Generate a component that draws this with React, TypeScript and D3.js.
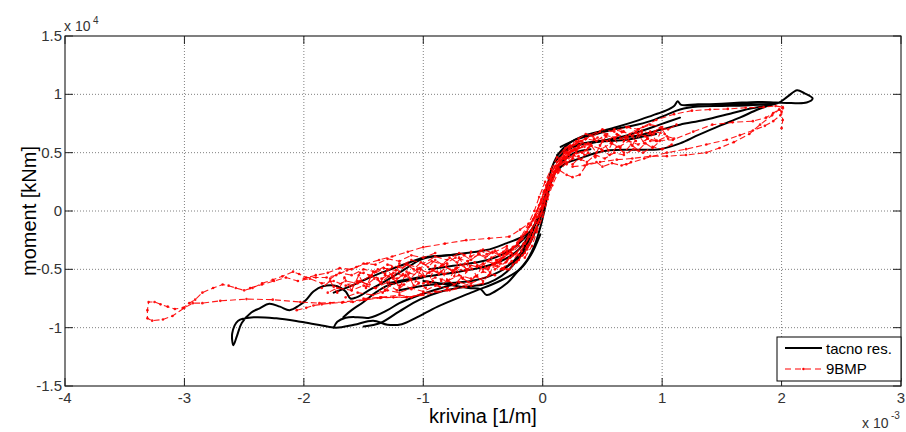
import React from "react";
import * as d3 from "d3";

type P = [number, number];

// axes
const xTicks = [-4, -3, -2, -1, 0, 1, 2, 3];
const yTicks = [-1.5, -1, -0.5, 0, 0.5, 1, 1.5];
const xLabel = "krivina [1/m]";
const yLabel = "moment [kNm]";
const seriesNames = ["tacno res.", "9BMP"];

// ---- series 1: "tacno res." (x in 1e-3 1/m, y in 1e4 kNm) ----
const black1: P[] = [[-0.05,-0.1],[0.0,0.05],[0.04,0.22],[0.08,0.38],[0.14,0.5],[0.22,0.58],[0.33,0.64],[0.47,0.68],[0.62,0.72],[0.78,0.77],[0.92,0.82],[1.03,0.86],[1.1,0.9],[1.13,0.94],[1.16,0.91],[1.3,0.915],[1.5,0.915],[1.7,0.915],[1.85,0.915],[1.97,0.925],[2.05,0.98],[2.13,1.035],[2.19,1.01],[2.26,0.965],[2.21,0.93],[2.08,0.925],[1.95,0.93],[1.8,0.935],[1.6,0.925],[1.4,0.915],[1.2,0.905]];
const black2: P[] = [[0.15,0.55],[0.3,0.62],[0.45,0.66],[0.6,0.7],[0.75,0.73],[0.9,0.77],[1.05,0.83],[1.15,0.87],[1.3,0.895],[1.5,0.9],[1.7,0.905],[1.9,0.915]];
const black3: P[] = [[0.4,0.58],[0.6,0.62],[0.81,0.65],[1.0,0.7],[1.15,0.74],[1.35,0.78],[1.59,0.84],[1.75,0.88],[1.87,0.9],[1.95,0.92]];
const black4: P[] = [[0.08,0.3],[0.18,0.4],[0.31,0.45],[0.45,0.5],[0.56,0.52],[0.75,0.525],[0.98,0.53],[1.15,0.58],[1.3,0.65],[1.48,0.73],[1.65,0.8],[1.8,0.87],[1.92,0.915]];
const black5: P[] = [[0.1,0.42],[0.2,0.52],[0.32,0.57],[0.48,0.6],[0.64,0.63],[0.81,0.68],[0.98,0.74],[1.15,0.8]];
const black6: P[] = [[0.12,0.48],[0.25,0.56],[0.4,0.59],[0.55,0.6],[0.7,0.61],[0.85,0.64],[0.95,0.66]];
const black7: P[] = [[-0.35,-0.5],[-0.22,-0.42],[-0.12,-0.3],[-0.04,-0.12],[0.03,0.1],[0.09,0.3],[0.16,0.42],[0.27,0.5],[0.4,0.53]];
const black8: P[] = [[-0.02,-0.2],[-0.1,-0.38],[-0.19,-0.5],[-0.36,-0.6],[-0.6,-0.7],[-0.88,-0.82],[-1.05,-0.91],[-1.18,-0.97],[-1.3,-0.975],[-1.42,-0.94],[-1.58,-0.975],[-1.73,-1.0],[-1.87,-0.977],[-2.03,-0.949],[-2.23,-0.92],[-2.42,-0.911],[-2.55,-0.94],[-2.6,-1.05],[-2.59,-1.15],[-2.56,-1.07],[-2.52,-0.96],[-2.44,-0.87],[-2.37,-0.834],[-2.29,-0.795],[-2.2,-0.82],[-2.12,-0.85],[-2.04,-0.81],[-1.98,-0.76],[-1.92,-0.69],[-1.84,-0.645],[-1.72,-0.645],[-1.65,-0.69],[-1.61,-0.75],[-1.56,-0.74],[-1.45,-0.677],[-1.3,-0.59],[-1.14,-0.49],[-1.03,-0.42],[-0.92,-0.39],[-0.8,-0.38],[-0.64,-0.36],[-0.47,-0.335],[-0.3,-0.275],[-0.19,-0.23],[-0.11,-0.18],[-0.05,-0.08],[0.0,0.03]];
const black9: P[] = [[-1.75,-0.7],[-1.6,-0.64],[-1.45,-0.57],[-1.3,-0.51],[-1.14,-0.45],[-1.0,-0.4],[-0.85,-0.385],[-0.7,-0.37]];
const black10: P[] = [[-1.5,-0.99],[-1.36,-0.96],[-1.2,-0.86],[-1.03,-0.76],[-0.85,-0.69],[-0.65,-0.65],[-0.5,-0.63],[-0.4,-0.59],[-0.3,-0.52],[-0.2,-0.4],[-0.12,-0.26],[-0.05,-0.08]];
const black11: P[] = [[-1.75,-1.0],[-1.72,-0.95],[-1.65,-0.915],[-1.55,-0.91],[-1.45,-0.915],[-1.3,-0.85],[-1.2,-0.79],[-1.03,-0.72],[-0.85,-0.66],[-0.7,-0.62]];
const black12: P[] = [[-1.67,-0.91],[-1.6,-0.85],[-1.5,-0.78],[-1.4,-0.7],[-1.3,-0.64],[-1.15,-0.6],[-1.0,-0.57]];
const black13: P[] = [[-1.3,-0.62],[-1.1,-0.58],[-0.9,-0.55],[-0.7,-0.52],[-0.5,-0.48],[-0.35,-0.43],[-0.2,-0.33],[-0.08,-0.15]];
const black14: P[] = [[-1.2,-0.68],[-1.0,-0.64],[-0.8,-0.62],[-0.6,-0.6],[-0.45,-0.56],[-0.3,-0.48],[-0.18,-0.35],[-0.06,-0.1]];
const black15: P[] = [[-0.95,-0.5],[-0.75,-0.47],[-0.55,-0.44],[-0.4,-0.4],[-0.25,-0.32],[-0.12,-0.2]];
const black16: P[] = [[-1.0,-0.6],[-0.8,-0.63],[-0.62,-0.66],[-0.52,-0.67],[-0.47,-0.72],[-0.4,-0.69],[-0.3,-0.62],[-0.22,-0.53],[-0.13,-0.42],[-0.07,-0.3],[-0.02,-0.14],[0.03,0.08]];

// ---- series 2: "9BMP" ----
const red1: P[] = [[-0.42,-0.45],[-0.33,-0.4],[-0.25,-0.33],[-0.17,-0.24],[-0.1,-0.12],[-0.05,0.0],[0.0,0.12],[0.05,0.24],[0.1,0.34],[0.15,0.43],[0.21,0.5],[0.3,0.56]];
const red2: P[] = [[-0.35,-0.5],[-0.26,-0.43],[-0.18,-0.34],[-0.11,-0.22],[-0.06,-0.1],[-0.01,0.03],[0.03,0.16],[0.07,0.28],[0.12,0.39],[0.18,0.47],[0.27,0.53],[0.38,0.58]];
const red3: P[] = [[-0.3,-0.42],[-0.22,-0.36],[-0.15,-0.28],[-0.09,-0.17],[-0.04,-0.05],[0.01,0.08],[0.05,0.2],[0.1,0.32],[0.15,0.41],[0.22,0.48]];
const red4: P[] = [[-0.25,-0.46],[-0.17,-0.38],[-0.11,-0.28],[-0.06,-0.16],[-0.02,-0.04],[0.02,0.1],[0.06,0.24],[0.11,0.36],[0.17,0.45],[0.25,0.52],[0.35,0.55]];
const red5: P[] = [[-0.2,-0.38],[-0.13,-0.3],[-0.08,-0.2],[-0.03,-0.08],[0.01,0.05],[0.05,0.18],[0.09,0.3],[0.14,0.4],[0.2,0.46]];
const red6: P[] = [[-0.5,-0.5],[-0.4,-0.45],[-0.3,-0.37],[-0.21,-0.28],[-0.13,-0.18],[-0.07,-0.06],[-0.02,0.06],[0.02,0.18],[0.07,0.31],[0.12,0.42],[0.18,0.5],[0.26,0.57],[0.36,0.62]];
const red7: P[] = [[-0.15,-0.4],[-0.09,-0.3],[-0.05,-0.18],[0.0,-0.05],[0.04,0.1],[0.08,0.22],[0.13,0.33],[0.2,0.42],[0.3,0.47]];
const red8: P[] = [[0.2,0.5],[0.28,0.58],[0.36,0.62],[0.45,0.6],[0.52,0.65],[0.6,0.63],[0.68,0.68],[0.75,0.64],[0.83,0.69],[0.9,0.66],[0.98,0.71],[1.05,0.7],[1.12,0.74]];
const red9: P[] = [[0.18,0.45],[0.26,0.52],[0.33,0.5],[0.41,0.56],[0.49,0.53],[0.57,0.58],[0.64,0.55],[0.72,0.6],[0.8,0.57],[0.88,0.62],[0.96,0.6],[1.04,0.64],[1.1,0.62]];
const red10: P[] = [[0.22,0.55],[0.3,0.6],[0.38,0.57],[0.46,0.63],[0.54,0.6],[0.62,0.66],[0.7,0.62],[0.78,0.67],[0.86,0.64],[0.94,0.68],[1.02,0.66]];
const red11: P[] = [[0.25,0.4],[0.3,0.45],[0.37,0.42],[0.44,0.48],[0.52,0.45],[0.6,0.5],[0.68,0.48],[0.76,0.53],[0.84,0.5],[0.92,0.55],[1.0,0.53],[1.08,0.57]];
const red12: P[] = [[0.14,0.35],[0.2,0.31],[0.25,0.29],[0.31,0.31],[0.37,0.4],[0.45,0.42],[0.5,0.38],[0.58,0.41],[0.66,0.39],[0.74,0.42]];
const red13: P[] = [[0.3,0.55],[0.4,0.65],[0.5,0.7],[0.6,0.68],[0.7,0.72],[0.8,0.7],[0.9,0.74],[1.0,0.72]];
const red14: P[] = [[0.65,0.62],[0.8,0.7],[0.95,0.78],[1.1,0.83],[1.25,0.86],[1.4,0.87],[1.55,0.875],[1.7,0.885],[1.85,0.89],[1.95,0.9],[2.01,0.89]];
const red15: P[] = [[0.9,0.6],[1.09,0.61],[1.26,0.68],[1.42,0.74],[1.59,0.76],[1.76,0.77],[1.87,0.8],[1.93,0.84],[1.98,0.87],[2.0,0.85],[2.01,0.78],[2.0,0.71]];
const red16: P[] = [[0.7,0.4],[0.85,0.45],[1.04,0.5],[1.2,0.53],[1.37,0.57],[1.54,0.61],[1.65,0.65],[1.76,0.69],[1.86,0.73],[1.93,0.77],[1.99,0.82],[2.01,0.88]];
const red17: P[] = [[0.25,0.38],[0.35,0.39],[0.48,0.42],[0.62,0.44],[0.75,0.45],[0.9,0.47],[1.04,0.47],[1.2,0.48],[1.37,0.5],[1.48,0.54],[1.6,0.59],[1.73,0.66],[1.82,0.74],[1.92,0.82],[1.98,0.87]];
const red18: P[] = [[0.0,0.05],[-0.08,-0.08],[-0.19,-0.16],[-0.28,-0.22],[-0.45,-0.235],[-0.64,-0.25],[-0.82,-0.28],[-1.0,-0.31],[-1.13,-0.35],[-1.26,-0.39],[-1.37,-0.42],[-1.47,-0.45],[-1.56,-0.48],[-1.64,-0.51],[-1.73,-0.55],[-1.81,-0.57],[-1.9,-0.57],[-1.98,-0.57],[-2.04,-0.54],[-2.09,-0.52],[-2.18,-0.56],[-2.26,-0.59],[-2.35,-0.62],[-2.43,-0.66],[-2.5,-0.68],[-2.57,-0.66],[-2.63,-0.64],[-2.68,-0.63],[-2.76,-0.66],[-2.85,-0.7],[-2.91,-0.76],[-2.96,-0.79],[-3.01,-0.83],[-3.08,-0.84],[-3.14,-0.82],[-3.2,-0.8],[-3.25,-0.78],[-3.3,-0.78],[-3.31,-0.85],[-3.31,-0.92],[-3.27,-0.94],[-3.18,-0.93],[-3.1,-0.9],[-3.0,-0.83],[-2.93,-0.79],[-2.85,-0.79],[-2.7,-0.77],[-2.48,-0.755],[-2.26,-0.76],[-2.03,-0.78],[-1.87,-0.79],[-1.67,-0.78],[-1.5,-0.76],[-1.36,-0.74],[-1.14,-0.74],[-1.0,-0.72],[-0.8,-0.68],[-0.6,-0.62],[-0.45,-0.55]];
const red19: P[] = [[-0.3,-0.3],[-0.42,-0.36],[-0.5,-0.33],[-0.6,-0.39],[-0.7,-0.36],[-0.8,-0.42],[-0.9,-0.39],[-1.0,-0.45],[-1.1,-0.42],[-1.2,-0.48],[-1.3,-0.46],[-1.4,-0.52],[-1.5,-0.5],[-1.6,-0.55],[-1.7,-0.53],[-1.78,-0.58]];
const red20: P[] = [[-0.35,-0.45],[-0.45,-0.42],[-0.55,-0.48],[-0.65,-0.45],[-0.75,-0.51],[-0.85,-0.47],[-0.95,-0.53],[-1.05,-0.5],[-1.15,-0.56],[-1.25,-0.53],[-1.35,-0.58],[-1.45,-0.56],[-1.55,-0.62],[-1.65,-0.6],[-1.75,-0.65]];
const red21: P[] = [[-0.4,-0.55],[-0.5,-0.52],[-0.6,-0.58],[-0.7,-0.55],[-0.8,-0.6],[-0.9,-0.57],[-1.0,-0.62],[-1.1,-0.59],[-1.2,-0.64],[-1.3,-0.61],[-1.4,-0.66],[-1.5,-0.64],[-1.6,-0.68],[-1.72,-0.66],[-1.8,-0.7]];
const red22: P[] = [[-0.25,-0.38],[-0.33,-0.35],[-0.43,-0.4],[-0.53,-0.37],[-0.63,-0.43],[-0.73,-0.4],[-0.83,-0.46],[-0.93,-0.43],[-1.03,-0.49],[-1.13,-0.46],[-1.23,-0.51],[-1.33,-0.49],[-1.43,-0.55],[-1.53,-0.53]];
const red23: P[] = [[-0.5,-0.62],[-0.6,-0.64],[-0.7,-0.61],[-0.8,-0.66],[-0.9,-0.64],[-1.0,-0.69],[-1.1,-0.66],[-1.2,-0.7],[-1.3,-0.68],[-1.42,-0.72],[-1.55,-0.7],[-1.65,-0.74]];
const red24: P[] = [[-0.64,-0.65],[-0.78,-0.68],[-0.9,-0.69],[-1.0,-0.7],[-1.1,-0.74],[-1.2,-0.72],[-1.35,-0.74],[-1.5,-0.75]];
const red25: P[] = [[-2.45,-0.66],[-2.35,-0.63],[-2.25,-0.6],[-2.15,-0.57],[-2.05,-0.6],[-1.95,-0.58],[-1.85,-0.62],[-1.75,-0.6],[-1.65,-0.64],[-1.55,-0.6],[-1.45,-0.63]];
const red26: P[] = [[-0.3,-0.5],[-0.38,-0.47],[-0.46,-0.5],[-0.55,-0.47],[-0.64,-0.52],[-0.72,-0.49],[-0.82,-0.54],[-0.92,-0.51],[-1.02,-0.56],[-1.12,-0.53],[-1.22,-0.58],[-1.32,-0.55]];
const red27: P[] = [[-2.06,-0.85],[-1.98,-0.83],[-1.92,-0.81],[-1.85,-0.8],[-1.78,-0.79],[-1.68,-0.785],[-1.59,-0.78],[-1.48,-0.76],[-1.36,-0.745],[-1.25,-0.74],[-1.14,-0.737],[-1.02,-0.72]];
const red28: P[] = [[-0.3,-0.34],[-0.36,-0.38],[-0.42,-0.35],[-0.48,-0.4],[-0.54,-0.37],[-0.6,-0.42],[-0.66,-0.38],[-0.72,-0.44],[-0.78,-0.4],[-0.84,-0.46],[-0.9,-0.42],[-0.96,-0.48],[-1.02,-0.44],[-1.08,-0.5],[-1.14,-0.46],[-1.2,-0.52],[-1.26,-0.48],[-1.32,-0.54],[-1.38,-0.5],[-1.44,-0.56],[-1.5,-0.53]];
const red29: P[] = [[-0.35,-0.42],[-0.4,-0.46],[-0.46,-0.43],[-0.52,-0.48],[-0.57,-0.44],[-0.63,-0.5],[-0.69,-0.46],[-0.75,-0.52],[-0.81,-0.48],[-0.87,-0.54],[-0.93,-0.5],[-0.99,-0.56],[-1.05,-0.52],[-1.11,-0.58],[-1.17,-0.54],[-1.23,-0.6],[-1.29,-0.56],[-1.35,-0.61],[-1.41,-0.58],[-1.47,-0.63],[-1.53,-0.6],[-1.6,-0.64]];
const red30: P[] = [[-0.45,-0.55],[-0.5,-0.6],[-0.56,-0.56],[-0.62,-0.61],[-0.68,-0.57],[-0.74,-0.63],[-0.8,-0.59],[-0.86,-0.65],[-0.92,-0.6],[-0.98,-0.66],[-1.04,-0.62],[-1.1,-0.67],[-1.16,-0.63],[-1.22,-0.68],[-1.28,-0.64],[-1.34,-0.7],[-1.4,-0.66]];
const red31: P[] = [[-0.6,-0.35],[-0.64,-0.5],[-0.7,-0.4],[-0.74,-0.56],[-0.8,-0.45],[-0.85,-0.6],[-0.9,-0.47],[-0.96,-0.62],[-1.02,-0.5],[-1.08,-0.64],[-1.14,-0.52],[-1.2,-0.66],[-1.26,-0.55],[-1.32,-0.68],[-1.38,-0.58]];
const red32: P[] = [[-0.28,-0.4],[-0.33,-0.5],[-0.39,-0.42],[-0.44,-0.53],[-0.5,-0.45],[-0.55,-0.56],[-0.61,-0.47],[-0.67,-0.58],[-0.73,-0.49],[-0.79,-0.6],[-0.85,-0.52]];
const red33: P[] = [[-0.9,-0.36],[-1.0,-0.4],[-1.1,-0.38],[-1.2,-0.43],[-1.3,-0.41],[-1.4,-0.46],[-1.5,-0.45],[-1.6,-0.5],[-1.7,-0.49],[-1.8,-0.53],[-1.9,-0.55],[-2.0,-0.58]];
const red34: P[] = [[-1.2,-0.45],[-1.25,-0.58],[-1.3,-0.5],[-1.36,-0.62],[-1.42,-0.52],[-1.48,-0.66],[-1.54,-0.55],[-1.6,-0.68],[-1.66,-0.57],[-1.72,-0.7],[-1.78,-0.6],[-1.85,-0.66]];
const red35: P[] = [[-0.2,-0.3],[-0.26,-0.36],[-0.3,-0.32],[-0.36,-0.38],[-0.4,-0.34],[-0.47,-0.37],[-0.52,-0.34]];
const red36: P[] = [[0.15,0.42],[0.2,0.5],[0.25,0.45],[0.3,0.54],[0.35,0.48],[0.4,0.57],[0.45,0.5],[0.5,0.6],[0.55,0.52],[0.6,0.62],[0.65,0.54],[0.7,0.64],[0.75,0.56],[0.8,0.66],[0.85,0.58],[0.9,0.68],[0.95,0.6],[1.0,0.7],[1.05,0.62]];
const red37: P[] = [[0.18,0.52],[0.23,0.56],[0.28,0.52],[0.33,0.6],[0.38,0.54],[0.43,0.62],[0.48,0.56],[0.53,0.64],[0.58,0.58],[0.63,0.65],[0.68,0.6],[0.73,0.66],[0.78,0.6],[0.83,0.67],[0.88,0.62],[0.93,0.66]];
const red38: P[] = [[0.2,0.4],[0.26,0.48],[0.32,0.44],[0.38,0.5],[0.44,0.46],[0.5,0.52],[0.56,0.48],[0.62,0.55],[0.68,0.5],[0.74,0.57],[0.8,0.52],[0.86,0.58],[0.92,0.54],[0.98,0.6]];
const red39: P[] = [[0.3,0.62],[0.36,0.66],[0.42,0.64],[0.48,0.68],[0.54,0.66],[0.6,0.7],[0.66,0.68],[0.72,0.72],[0.78,0.68],[0.84,0.72]];
const red40: P[] = [[-0.38,-0.42],[-0.29,-0.36],[-0.21,-0.28],[-0.14,-0.18],[-0.08,-0.07],[-0.03,0.05],[0.01,0.17],[0.05,0.28],[0.1,0.38],[0.16,0.46],[0.24,0.52]];
const red41: P[] = [[-0.28,-0.5],[-0.2,-0.42],[-0.13,-0.33],[-0.08,-0.22],[-0.04,-0.1],[0.0,0.02],[0.04,0.14],[0.08,0.26],[0.13,0.37],[0.19,0.44],[0.28,0.5]];
const red42: P[] = [[-0.45,-0.48],[-0.36,-0.43],[-0.27,-0.35],[-0.19,-0.25],[-0.12,-0.14],[-0.06,-0.03],[-0.01,0.1],[0.03,0.22],[0.08,0.34],[0.14,0.45],[0.22,0.53],[0.32,0.6]];
const red43: P[] = [[-0.4,-0.5],[-0.31,-0.44],[-0.23,-0.37],[-0.16,-0.28],[-0.1,-0.17],[-0.05,-0.05],[-0.01,0.07],[0.04,0.2],[0.09,0.33],[0.15,0.43],[0.23,0.5],[0.33,0.55]];
const red44: P[] = [[-0.33,-0.38],[-0.25,-0.31],[-0.18,-0.22],[-0.12,-0.11],[-0.07,0.0],[-0.03,0.12],[0.02,0.25],[0.07,0.36],[0.12,0.46],[0.19,0.54],[0.28,0.6]];
const red45: P[] = [[-0.22,-0.44],[-0.15,-0.36],[-0.1,-0.26],[-0.05,-0.14],[-0.01,-0.02],[0.03,0.11],[0.07,0.23],[0.12,0.34],[0.18,0.42],[0.26,0.48],[0.36,0.52]];

const blackPaths = [black1, black2, black3, black4, black5, black6, black7, black8, black9, black10, black11, black12, black13, black14, black15, black16];
const redPaths = [red18, red19, red20, red21, red22, red23, red24, red25, red26, red27, red28, red29, red30, red31, red32, red33, red34, red35, red1, red2, red3, red4, red5, red6, red7, red40, red41, red42, red43, red44, red45, red8, red9, red10, red11, red12, red13, red36, red37, red38, red39, red14, red15, red16, red17];

const FONT = "'Liberation Sans', Arial, Helvetica, sans-serif";

export default function App() {
  const left = 65, right = 901, top = 36, bottom = 386;
  const x = d3.scaleLinear().domain([-4, 3]).range([left, right]);
  const y = d3.scaleLinear().domain([-1.5, 1.5]).range([bottom, top]);
  const lineSmooth = d3.line<P>().x((d) => x(d[0])).y((d) => y(d[1])).curve(d3.curveCatmullRom.alpha(0.5));
  const lineRaw = d3.line<P>().x((d) => x(d[0])).y((d) => y(d[1]));
  const tickLen = 8;
  const tickColor = "#222";
  const labelColor = "#333";

  return (
    <svg width={906} height={432} style={{ position: "fixed", left: 0, top: 0, background: "#fff" }} fontFamily={FONT}>
      <rect x={0} y={0} width={906} height={432} fill="#fff" />
      <defs>
        <clipPath id="plotclip">
          <rect x={left} y={top} width={right - left} height={bottom - top} />
        </clipPath>
      </defs>
      {/* grid */}
      {xTicks.slice(1, -1).map((t) => (
        <line key={"gx" + t} x1={x(t)} x2={x(t)} y1={top} y2={bottom} stroke="#808080" strokeWidth={1} strokeDasharray="1,2" />
      ))}
      {yTicks.slice(1, -1).map((t) => (
        <line key={"gy" + t} x1={left} x2={right} y1={y(t)} y2={y(t)} stroke="#808080" strokeWidth={1} strokeDasharray="1,2" />
      ))}
      {/* data */}
      <g clipPath="url(#plotclip)">
        {blackPaths.map((p, i) => (
          <path key={"b" + i} d={lineSmooth(p) || ""} fill="none" stroke="#000" strokeWidth={2} strokeLinejoin="round" strokeLinecap="round" />
        ))}
        {redPaths.map((p, i) => (
          <g key={"r" + i}>
            <path d={lineRaw(p) || ""} fill="none" stroke="#ff0000" strokeWidth={1.1} strokeDasharray="6,3" opacity={0.9} />
            {p.map((d, j) => (
              <circle key={j} cx={x(d[0])} cy={y(d[1])} r={1.3} fill="#ff0000" opacity={0.9} />
            ))}
          </g>
        ))}
      </g>
      {/* axes box */}
      <rect x={left} y={top} width={right - left} height={bottom - top} fill="none" stroke="#000" strokeWidth={1} />
      {/* ticks */}
      {xTicks.map((t) => (
        <g key={"tx" + t}>
          <line x1={x(t)} x2={x(t)} y1={bottom} y2={bottom - tickLen} stroke={tickColor} />
          <line x1={x(t)} x2={x(t)} y1={top} y2={top + tickLen} stroke={tickColor} />
          <text x={x(t)} y={403} textAnchor="middle" fontSize={15} fill={labelColor}>{String(t)}</text>
        </g>
      ))}
      {yTicks.map((t) => (
        <g key={"ty" + t}>
          <line x1={left} x2={left + tickLen} y1={y(t)} y2={y(t)} stroke={tickColor} />
          <line x1={right} x2={right - tickLen} y1={y(t)} y2={y(t)} stroke={tickColor} />
          <text x={62} y={y(t) + 5} textAnchor="end" fontSize={15} fill={labelColor}>{String(t)}</text>
        </g>
      ))}
      {/* exponents */}
      <text x={64} y={31} fontSize={14} fill={labelColor}>x 10</text>
      <text x={93} y={24} fontSize={10} fill={labelColor}>4</text>
      <text x={862} y={428} fontSize={14} fill={labelColor}>x 10</text>
      <text x={891} y={419} fontSize={10} fill={labelColor}>-3</text>
      {/* axis labels */}
      <text x={(left + right) / 2} y={423} textAnchor="middle" fontSize={20} fill="#000">{xLabel}</text>
      <text transform={`translate(36, ${(top + bottom) / 2}) rotate(-90)`} textAnchor="middle" fontSize={20} fill="#000">{yLabel}</text>
      {/* legend */}
      <g>
        <rect x={777} y={337} width={124} height={44} fill="#fff" stroke="#000" strokeWidth={1} />
        <line x1={785} x2={822} y1={348} y2={348} stroke="#000" strokeWidth={2} />
        <text x={826} y={354} fontSize={15} fill="#000">{seriesNames[0]}</text>
        <line x1={785} x2={822} y1={369} y2={369} stroke="#ff0000" strokeWidth={1} strokeDasharray="6,4" />
        <circle cx={803.5} cy={369} r={1.3} fill="#ff0000" />
        <text x={826} y={374} fontSize={15} fill="#000">{seriesNames[1]}</text>
      </g>
    </svg>
  );
}
